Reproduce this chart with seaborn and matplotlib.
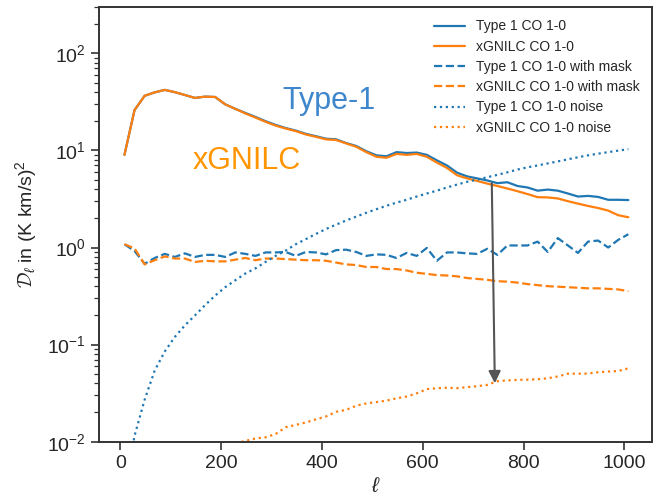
import numpy as np
import pandas as pd
import matplotlib
matplotlib.use("Agg")
import matplotlib.pyplot as plt
import seaborn as sns
from matplotlib.ticker import LogLocator, NullFormatter

# ---- data ----
ell = [8, 28, 48, 68, 88, 108, 128, 148, 168, 188, 208, 228, 248, 268, 288,
       308, 328, 348, 368, 388, 408, 428, 448, 468, 488, 508, 528, 548, 568,
       588, 608, 628, 648, 668, 688, 708, 728, 748, 768, 788, 808, 828, 848,
       868, 888, 908, 928, 948, 968, 988, 1008]

xgnilc_full = [9.0, 26.0, 36.5, 39.6, 42.0, 39.8, 37.2, 34.7, 35.8, 35.5, 29.8,
               26.8, 24.0, 21.8, 19.7, 18.0, 16.8, 15.8, 14.6, 13.8, 13.0, 12.8,
               11.8, 10.9, 9.6, 8.6, 8.4, 9.2, 9.0, 9.2, 8.6, 7.5, 6.6, 5.55,
               5.15, 4.85, 4.55, 4.3, 4.05, 3.8, 3.55, 3.3, 3.28, 3.2, 3.0, 2.83,
               2.68, 2.55, 2.4, 2.15, 2.05]

type1_full = [9.0, 26.0, 36.5, 39.6, 42.0, 39.8, 37.2, 34.7, 35.8, 35.5, 29.8,
              26.8, 24.3, 22.1, 20.0, 18.3, 17.0, 16.0, 14.8, 14.0, 13.2, 13.0,
              11.9, 11.1, 9.8, 8.9, 8.7, 9.6, 9.4, 9.5, 9.0, 7.9, 7.0, 5.9,
              5.4, 5.15, 4.9, 4.6, 4.7, 4.3, 4.15, 3.85, 3.95, 3.85, 3.6, 3.35,
              3.4, 3.32, 3.1, 3.1, 3.08]

type1_mask = [1.08, 0.92, 0.68, 0.78, 0.86, 0.80, 0.87, 0.80, 0.84, 0.84, 0.80,
              0.89, 0.86, 0.82, 0.89, 0.89, 0.90, 0.82, 0.90, 0.89, 0.85, 0.94,
              0.95, 0.90, 0.82, 0.85, 0.84, 0.78, 0.88, 0.82, 0.99, 0.73, 0.89,
              0.89, 0.87, 0.86, 0.97, 0.84, 1.05, 1.05, 1.05, 1.15, 0.90, 1.25,
              1.05, 0.88, 1.15, 1.18, 1.00, 1.20, 1.37]

xgnilc_mask = [1.08, 0.98, 0.67, 0.74, 0.81, 0.77, 0.77, 0.71, 0.73, 0.72, 0.72,
               0.75, 0.78, 0.74, 0.77, 0.77, 0.76, 0.75, 0.74, 0.74, 0.73, 0.70,
               0.67, 0.66, 0.63, 0.63, 0.60, 0.60, 0.58, 0.55, 0.535, 0.52,
               0.515, 0.505, 0.485, 0.475, 0.465, 0.45, 0.445, 0.435, 0.42,
               0.41, 0.40, 0.395, 0.39, 0.385, 0.38, 0.38, 0.375, 0.37, 0.355]

type1_noise = [0.003, 0.0115, 0.027, 0.054, 0.085, 0.12, 0.158, 0.20, 0.255,
               0.32, 0.39, 0.46, 0.54, 0.61, 0.71, 0.82, 0.93, 1.08, 1.22, 1.38,
               1.55, 1.72, 1.9, 2.08, 2.28, 2.48, 2.69, 2.9, 3.1, 3.35, 3.6,
               3.85, 4.15, 4.45, 4.75, 5.0, 5.3, 5.6, 5.95, 6.35, 6.7, 7.0, 7.35,
               7.7, 8.1, 8.5, 8.9, 9.25, 9.6, 9.95, 10.3]

xgnilc_noise = [0.003, 0.004, 0.0045, 0.005, 0.0055, 0.006, 0.0065, 0.007,
                0.0075, 0.008, 0.0088, 0.0096, 0.0102, 0.0108, 0.0111, 0.012,
                0.0141, 0.0149, 0.0158, 0.017, 0.0182, 0.0203, 0.0213, 0.0235,
                0.0248, 0.0256, 0.0265, 0.028, 0.0292, 0.0315, 0.0348, 0.0355,
                0.036, 0.0356, 0.0365, 0.0373, 0.0385, 0.042, 0.0428, 0.0433,
                0.0436, 0.044, 0.045, 0.047, 0.0502, 0.0502, 0.0504, 0.052,
                0.0528, 0.0535, 0.057]

labels = ["Type 1 CO 1-0", "xGNILC CO 1-0", "Type 1 CO 1-0 with mask",
          "xGNILC CO 1-0 with mask", "Type 1 CO 1-0 noise", "xGNILC CO 1-0 noise"]
series = [type1_full, xgnilc_full, type1_mask, xgnilc_mask, type1_noise, xgnilc_noise]

arrow_start = (737, 4.6)
arrow_end = (743, 0.040)

# ---- style ----
sns.set_style("ticks")
plt.rcParams["font.family"] = ["Liberation Sans", "DejaVu Sans"]
plt.rcParams["mathtext.fontset"] = "custom"
plt.rcParams["mathtext.rm"] = "Liberation Sans"
plt.rcParams["mathtext.it"] = "Liberation Sans:italic"
plt.rcParams["mathtext.cal"] = "cmsy10"

blue = "#1f77b4"
orange = "#ff7f0e"
colors = [blue, orange, blue, orange, blue, orange]
styles = ["-", "-", "--", "--", ":", ":"]

fig = plt.figure(figsize=(6.54, 4.98), dpi=100)
ax = fig.add_axes([0.151, 0.113, 0.846, 0.873])

for lab, vals, c, ls in zip(labels, series, colors, styles):
    df = pd.DataFrame({"ell": ell, "D": vals})
    sns.lineplot(data=df, x="ell", y="D", ax=ax, color=c, linestyle=ls,
                 linewidth=1.6, label=lab)

ax.set_yscale("log")
ax.set_ylim(1e-2, 3e2)
ax.set_xlim(-43, 1055)
ax.set_xticks([0, 200, 400, 600, 800, 1000])
ax.yaxis.set_major_locator(LogLocator(base=10, numticks=10))
ax.yaxis.set_minor_locator(LogLocator(base=10, subs=np.arange(2, 10), numticks=20))
ax.yaxis.set_minor_formatter(NullFormatter())

ax.set_xlabel(r"$\ell$", fontsize=15, labelpad=4)
ax.set_ylabel(r"$\mathcal{D}_\ell$ in (K km/s)$^2$", fontsize=14, labelpad=6)
ax.tick_params(axis="both", which="major", labelsize=14, length=6, width=1.2,
               color="#333333")
ax.tick_params(axis="y", which="minor", length=3.5, width=0.9, color="#333333")
for sp in ax.spines.values():
    sp.set_color("#333333")
    sp.set_linewidth(1.4)
    sp.set_visible(True)

ax.text(322, 26.9, "Type-1", color="#3f87cc", fontsize=22, ha="left", va="baseline")
ax.text(143, 6.48, "xGNILC", color="#ff9500", fontsize=22, ha="left", va="baseline")

ax.annotate("", xy=arrow_end, xytext=arrow_start,
            arrowprops=dict(arrowstyle="-|>", color="#555555", lw=1.5,
                            mutation_scale=18, shrinkA=0, shrinkB=0))

leg = ax.legend(loc="upper right", frameon=False, fontsize=10,
                handlelength=2.2, borderaxespad=0.5, labelspacing=0.45)

fig.savefig("out.png", dpi=100)
